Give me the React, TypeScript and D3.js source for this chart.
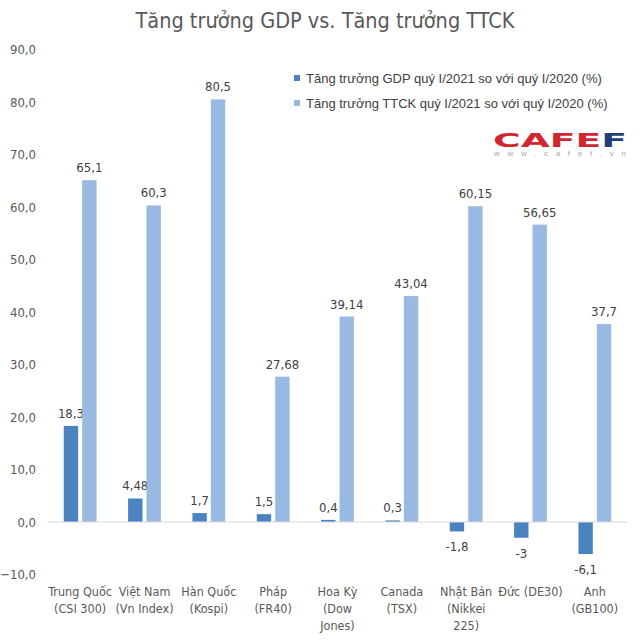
import React, { useEffect, useRef } from 'react';
import * as d3 from 'd3';

const categories: string[][] = [
  ['Trung Quốc', '(CSI 300)'],
  ['Việt Nam', '(Vn Index)'],
  ['Hàn Quốc', '(Kospi)'],
  ['Pháp', '(FR40)'],
  ['Hoa Kỳ', '(Dow', 'Jones)'],
  ['Canada', '(TSX)'],
  ['Nhật Bản', '(Nikkei', '225)'],
  ['Đức (DE30)'],
  ['Anh', '(GB100)'],
];
const gdpGrowth = [18.3, 4.48, 1.7, 1.5, 0.4, 0.3, -1.8, -3, -6.1];
const stockGrowth = [65.1, 60.3, 80.5, 27.68, 39.14, 43.04, 60.15, 56.65, 37.7];
const yTicks = [-10, 0, 10, 20, 30, 40, 50, 60, 70, 80, 90];
const seriesNames = [
  'Tăng trưởng GDP quý I/2021 so với quý I/2020 (%)',
  'Tăng trưởng TTCK quý I/2021 so với quý I/2020 (%)',
];
const title = 'Tăng trưởng GDP vs. Tăng trưởng TTCK';

const W = 640;
const H = 642;
const colors = ['#4a83bf', '#98b9e1'];
const narrow = '"DejaVu Sans Condensed", "DejaVu Sans", sans-serif';

const App: React.FC = () => {
  const ref = useRef<SVGSVGElement>(null);

  useEffect(() => {
    if (!ref.current) return;
    const svg = d3.select(ref.current);
    svg.selectAll('*').remove();

    const x0 = d3.scaleBand<number>()
      .domain(d3.range(categories.length))
      .range([48, 627])
      .paddingInner(0.49)
      .paddingOuter(0.245);
    const x1 = d3.scaleBand<number>()
      .domain([0, 1])
      .range([0, x0.bandwidth()])
      .paddingInner(0.22);
    const y = d3.scaleLinear().domain([-10, 90]).range([574.5, 49.5]);

    // titre
    svg.append('text')
      .attr('x', 325)
      .attr('y', 28)
      .attr('text-anchor', 'middle')
      .attr('fill', '#595959')
      .style('font-family', narrow)
      .style('font-size', '21.5px')
      .text(title);

    // axe Y
    svg.append('g')
      .selectAll('text')
      .data(yTicks)
      .enter().append('text')
      .attr('x', 36)
      .attr('y', d => y(d))
      .attr('dy', '0.35em')
      .attr('text-anchor', 'end')
      .attr('fill', '#595959')
      .style('font-family', narrow)
      .style('font-size', '13px')
      .text(d => d3.format('.1f')(d).replace('.', ','));

    // barres
    const series = [gdpGrowth, stockGrowth];
    series.forEach((vals, s) => {
      const g = svg.append('g');
      g.selectAll('rect')
        .data(vals)
        .enter().append('rect')
        .attr('x', (_, i) => (x0(i) as number) + (x1(s) as number))
        .attr('width', x1.bandwidth())
        .attr('y', d => y(Math.max(0, d)))
        .attr('height', d => Math.abs(y(d) - y(0)))
        .attr('fill', colors[s]);

      g.selectAll('text')
        .data(vals)
        .enter().append('text')
        .attr('x', (_, i) => (x0(i) as number) + (x1(s) as number) + x1.bandwidth() / 2)
        .attr('y', d => (d >= 0 ? y(d) - 8 : y(d) + 20))
        .attr('text-anchor', 'middle')
        .attr('fill', '#404040')
        .style('font-family', narrow)
        .style('font-size', '13px')
        .text(d => String(d).replace('.', ','));
    });

    // ligne zéro
    svg.append('line')
      .attr('x1', 48)
      .attr('x2', 627)
      .attr('y1', y(0))
      .attr('y2', y(0))
      .attr('stroke', '#d9d9d9')
      .attr('stroke-width', 1);

    // catégories
    const cat = svg.append('g')
      .selectAll('text')
      .data(categories)
      .enter().append('text')
      .attr('text-anchor', 'middle')
      .attr('fill', '#595959')
      .style('font-family', narrow)
      .style('font-size', '12.5px');
    cat.each(function (lines, i) {
      const cx = (x0(i) as number) + x0.bandwidth() / 2;
      d3.select(this).selectAll('tspan')
        .data(lines)
        .enter().append('tspan')
        .attr('x', cx)
        .attr('y', (_, j) => 596 + j * 17)
        .text(l => l);
    });

    // légende
    const leg = svg.append('g');
    seriesNames.forEach((name, s) => {
      const ly = 78 + s * 25;
      leg.append('rect')
        .attr('x', 294)
        .attr('y', ly - 3)
        .attr('width', 6)
        .attr('height', 6)
        .attr('fill', colors[s]);
      leg.append('text')
        .attr('x', 306)
        .attr('y', ly)
        .attr('dy', '0.35em')
        .attr('fill', '#404040')
        .style('font-family', '"Liberation Sans", Arial, sans-serif')
        .style('font-size', '13px')
        .text(name);
    });

    // logo
    const logo = svg.append('text')
      .attr('x', 493)
      .attr('y', 147)
      .attr('textLength', 134)
      .attr('lengthAdjust', 'spacingAndGlyphs')
      .style('font-family', '"DejaVu Sans", sans-serif')
      .style('font-weight', 'bold')
      .style('font-size', '19px');
    logo.append('tspan').attr('fill', '#d0262e').text('CAFE');
    logo.append('tspan').attr('fill', '#1f3f78').text('F');

    svg.append('text')
      .attr('x', 494)
      .attr('y', 156)
      .attr('textLength', 132)
      .attr('lengthAdjust', 'spacing')
      .attr('fill', '#a6a6a6')
      .style('font-family', '"Liberation Sans", sans-serif')
      .style('font-size', '8px')
      .text('www.cafef.vn');
  }, []);

  return (
    <div style={{ position: 'absolute', left: 0, top: 0, width: W, height: H, background: '#fff' }}>
      <svg ref={ref} width={W} height={H}></svg>
    </div>
  );
};

export default App;
